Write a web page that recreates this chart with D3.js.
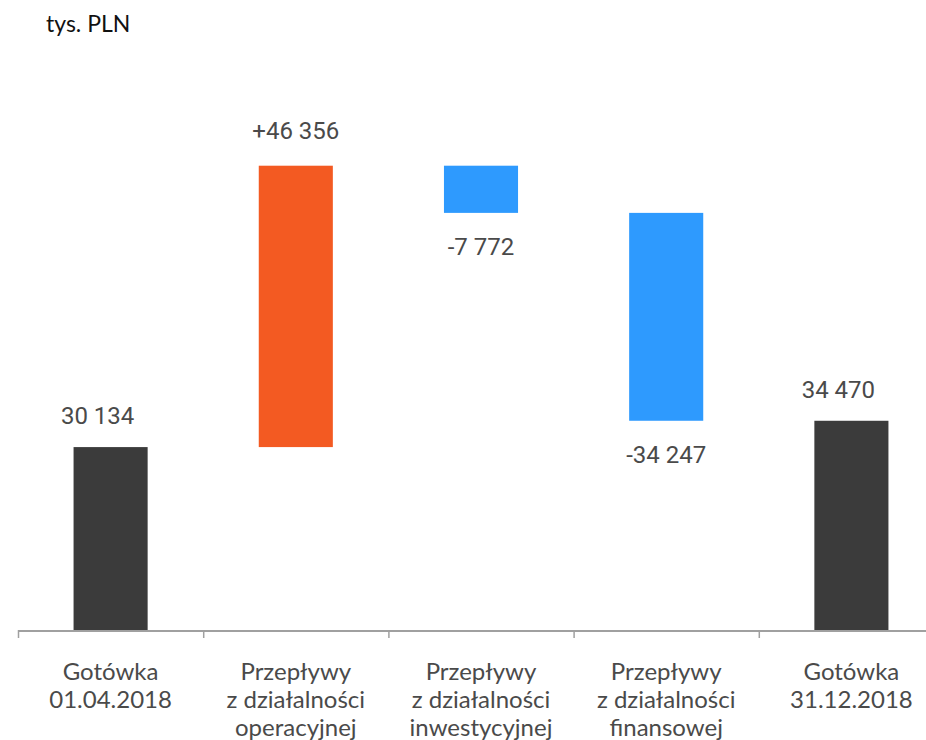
<!DOCTYPE html>
<html>
<head>
<meta charset="utf-8">
<script src="https://cdn.jsdelivr.net/npm/d3@7.9.0/dist/d3.min.js"></script>
<style>
  body { margin: 0; background: #fff; }
  svg { display: block; }
</style>
</head>
<body>
<svg id="chart" width="926" height="740"></svg>
<script>
const categories = [
  ['Gotówka', '01.04.2018'],
  ['Przepływy', 'z działalności', 'operacyjnej'],
  ['Przepływy', 'z działalności', 'inwestycyjnej'],
  ['Przepływy', 'z działalności', 'finansowej'],
  ['Gotówka', '31.12.2018']
];
const values = [30134, 46356, -7772, -34247, 34470];
const kinds = ['total', 'delta', 'delta', 'delta', 'total'];

const colors = { total: '#3b3b3b', up: '#f35a22', down: '#2e9afe' };

const locale = d3.formatLocale({ decimal: ',', thousands: ' ', grouping: [3], currency: ['', ' zł'] });
const fmt = locale.format(',d');

// waterfall start/end
let run = 0;
const bars = values.map((v, i) => {
  let y0, y1;
  if (kinds[i] === 'total') { y0 = 0; y1 = v; run = v; }
  else { y0 = run; y1 = run + v; run = y1; }
  return { i, v, kind: kinds[i], y0, y1 };
});

const svg = d3.select('#chart');
const axisY = 630;

const x = d3.scaleBand()
  .domain(d3.range(categories.length))
  .range([18, 944])
  .paddingInner(0.6)
  .paddingOuter(0.3);

const y = d3.scaleLinear()
  .domain([0, 80000])
  .range([axisY, axisY - 80000 * 0.00607]);

svg.append('text')
  .attr('x', 46).attr('y', 32)
  .attr('font-family', 'Lato').attr('font-size', 23)
  .attr('fill', '#111')
  .text('tys. PLN');

svg.selectAll('rect.bar')
  .data(bars)
  .join('rect')
  .attr('class', 'bar')
  .attr('x', d => x(d.i))
  .attr('width', x.bandwidth())
  .attr('y', d => y(Math.max(d.y0, d.y1)))
  .attr('height', d => Math.abs(y(d.y0) - y(d.y1)))
  .attr('fill', d => d.kind === 'total' ? colors.total : (d.v > 0 ? colors.up : colors.down));

// value labels (totals sit a bit left of the bar centre)
svg.selectAll('text.val')
  .data(bars)
  .join('text')
  .attr('class', 'val')
  .attr('x', d => x(d.i) + x.bandwidth() / 2 - (d.kind === 'total' ? 13 : 0))
  .attr('y', d => {
    if (d.kind === 'total') return y(d.y1) - 23;
    if (d.v > 0) return y(d.y1) - 27;
    return y(d.y1) + 42;
  })
  .attr('text-anchor', 'middle')
  .attr('font-family', 'Roboto').attr('font-size', 24)
  .attr('fill', '#4a4a4a')
  .text(d => d.kind === 'total' ? fmt(d.v) : (d.v > 0 ? '+' : '-') + fmt(Math.abs(d.v)));

// axis
const axis = svg.append('g').attr('stroke', '#a0a0a0').attr('stroke-width', 2);
axis.append('line')
  .attr('x1', 18).attr('x2', 926)
  .attr('y1', axisY + 1).attr('y2', axisY + 1);
axis.selectAll('line.tick')
  .data(d3.range(categories.length + 1))
  .join('line')
  .attr('class', 'tick')
  .attr('x1', i => 18 + i * x.step() + 0.5).attr('x2', i => 18 + i * x.step() + 0.5)
  .attr('y1', axisY).attr('y2', axisY + 8)
  .attr('stroke-width', 1.5);

// category labels
const cat = svg.selectAll('text.cat')
  .data(categories)
  .join('text')
  .attr('class', 'cat')
  .attr('text-anchor', 'middle')
  .attr('font-family', 'Lato').attr('font-size', 24)
  .attr('fill', '#4a4a4a');
cat.selectAll('tspan')
  .data((d, i) => d.map(t => ({ t, i })))
  .join('tspan')
  .attr('x', d => x(d.i) + x.bandwidth() / 2)
  .attr('y', (d, j) => 680 + j * 28)
  .text(d => d.t);
</script>
</body>
</html>
